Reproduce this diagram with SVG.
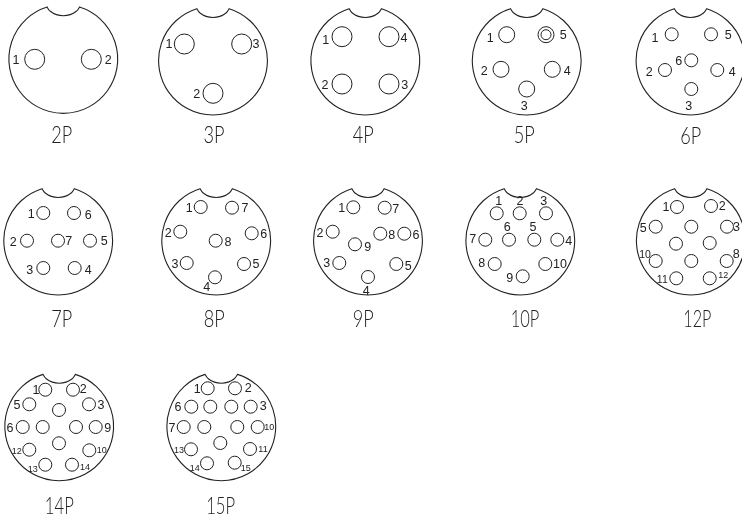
<svg xmlns="http://www.w3.org/2000/svg" xmlns:xlink="http://www.w3.org/1999/xlink" width="742" height="519" viewBox="0 0 742 519">
<style>
.b{fill:none;stroke:#222;stroke-width:1.1}
.p{fill:none;stroke:#222;stroke-width:1}
text{font-family:"Liberation Sans",Arial,sans-serif;fill:#222;text-anchor:middle;filter:url(#g)}
.n{font-size:12.5px}
.s{font-size:9px}
.t{font-size:10.5px}
.c{font-family:Lato,"Liberation Sans",sans-serif;font-weight:300;font-size:22.5px}
</style>
<defs>
<filter id="g" x="-20%" y="-20%" width="140%" height="140%" color-interpolation-filters="sRGB"><feOffset dx="0" dy="0"/></filter>
<path id="body" class="b" d="M-16.2,-51.8A54.4,54.4 0 1 0 16.2,-51.8C15,-49.5 14.5,-48.5 13,-47.5A21 21 0 0 1 -13,-47.5C-14.5,-48.5 -15,-49.5 -16.2,-51.8Z"/>
</defs>
<rect width="742" height="519" fill="#fff"/>
<g id="c2P"><use href="#body" x="63.3" y="58.8"/>
<circle class="p" cx="34.7" cy="59.3" r="10"/><circle class="p" cx="91.3" cy="59.3" r="10"/>
<text class="n" x="16" y="63.5">1</text><text class="n" x="108.3" y="63.5">2</text>
<text class="c" x="61.7" y="143.3" textLength="21" lengthAdjust="spacingAndGlyphs">2P</text></g>
<g id="c3P"><use href="#body" x="213" y="60.5"/>
<circle class="p" cx="184.3" cy="44" r="10"/><circle class="p" cx="241.7" cy="44" r="10"/><circle class="p" cx="213" cy="93.3" r="10"/>
<text class="n" x="169" y="48.3">1</text><text class="n" x="256" y="48.3">3</text><text class="n" x="196.7" y="98.3">2</text>
<text class="c" x="214" y="143.3" textLength="21" lengthAdjust="spacingAndGlyphs">3P</text></g>
<g id="c4P"><use href="#body" x="365.3" y="60.5"/>
<circle class="p" cx="342" cy="36.7" r="10"/><circle class="p" cx="389" cy="36.7" r="10"/><circle class="p" cx="342" cy="84" r="10"/><circle class="p" cx="389" cy="84" r="10"/>
<text class="n" x="325.7" y="44.3">1</text><text class="n" x="404" y="42">4</text><text class="n" x="325" y="88.6">2</text><text class="n" x="404.7" y="88.6">3</text>
<text class="c" x="363.3" y="143.3" textLength="21" lengthAdjust="spacingAndGlyphs">4P</text></g>
<g id="c5P"><use href="#body" x="526.7" y="60.5"/>
<circle class="p" cx="506.7" cy="34.7" r="8"/><circle class="p" cx="546" cy="34.7" r="8"/><circle class="p" cx="546" cy="34.7" r="5"/><circle class="p" cx="501" cy="69.3" r="8"/><circle class="p" cx="552.3" cy="69.3" r="8"/><circle class="p" cx="526.7" cy="89" r="8"/>
<text class="n" x="490.3" y="41.6">1</text><text class="n" x="563.3" y="39.3">5</text><text class="n" x="484.3" y="75">2</text><text class="n" x="567.3" y="75.3">4</text><text class="n" x="524.3" y="110.3">3</text>
<text class="c" x="524.3" y="143.3" textLength="21" lengthAdjust="spacingAndGlyphs">5P</text></g>
<g id="c6P"><use href="#body" x="690.5" y="60.5"/>
<circle class="p" cx="671.7" cy="34.3" r="6.5"/><circle class="p" cx="711" cy="34.3" r="6.5"/><circle class="p" cx="691.3" cy="60.3" r="6.5"/><circle class="p" cx="665" cy="70" r="6.5"/><circle class="p" cx="717.3" cy="70" r="6.5"/><circle class="p" cx="691.3" cy="89" r="6.5"/>
<text class="n" x="655" y="41.6">1</text><text class="n" x="728.3" y="39.3">5</text><text class="n" x="678.7" y="65.3">6</text><text class="n" x="649.3" y="75.6">2</text><text class="n" x="732.3" y="75.6">4</text><text class="n" x="688.7" y="110.3">3</text>
<text class="c" x="690.7" y="144" textLength="21" lengthAdjust="spacingAndGlyphs">6P</text></g>
<g id="c7P"><use href="#body" x="58.2" y="240.5"/>
<circle class="p" cx="43.3" cy="213" r="6.5"/><circle class="p" cx="74" cy="213" r="6.5"/><circle class="p" cx="27" cy="240.7" r="6.5"/><circle class="p" cx="58" cy="240.7" r="6.5"/><circle class="p" cx="90" cy="240.7" r="6.5"/><circle class="p" cx="43.3" cy="268" r="6.5"/><circle class="p" cx="74.7" cy="268" r="6.5"/>
<text class="n" x="31.3" y="218">1</text><text class="n" x="88.3" y="218.6">6</text><text class="n" x="13.3" y="246">2</text><text class="n" x="68.7" y="245.3">7</text><text class="n" x="104.3" y="245.3">5</text><text class="n" x="29.7" y="273.6">3</text><text class="n" x="88.3" y="273.6">4</text>
<text class="c" x="61.7" y="327.3" textLength="21" lengthAdjust="spacingAndGlyphs">7P</text></g>
<g id="c8P"><use href="#body" x="216.2" y="240.5"/>
<circle class="p" cx="200.7" cy="207" r="6.5"/><circle class="p" cx="232" cy="207.7" r="6.5"/><circle class="p" cx="180.3" cy="231.7" r="6.5"/><circle class="p" cx="251.7" cy="233.3" r="6.5"/><circle class="p" cx="215.7" cy="240.7" r="6.5"/><circle class="p" cx="186.7" cy="263" r="6.5"/><circle class="p" cx="244" cy="264" r="6.5"/><circle class="p" cx="215" cy="277.3" r="6.5"/>
<text class="n" x="189.3" y="211.6">1</text><text class="n" x="245" y="212">7</text><text class="n" x="168.3" y="237.3">2</text><text class="n" x="263.7" y="238">6</text><text class="n" x="228" y="245.6">8</text><text class="n" x="175" y="268">3</text><text class="n" x="256" y="268">5</text><text class="n" x="206.7" y="291.3">4</text>
<text class="c" x="214.3" y="327.3" textLength="21" lengthAdjust="spacingAndGlyphs">8P</text></g>
<g id="c9P"><use href="#body" x="368" y="240.5"/>
<circle class="p" cx="353.3" cy="207.3" r="6.5"/><circle class="p" cx="384.7" cy="207.7" r="6.5"/><circle class="p" cx="332.7" cy="231.7" r="6.5"/><circle class="p" cx="380.3" cy="233.7" r="6.5"/><circle class="p" cx="404.3" cy="233.7" r="6.5"/><circle class="p" cx="355" cy="244.3" r="6.5"/><circle class="p" cx="339.3" cy="263" r="6.5"/><circle class="p" cx="396.3" cy="264" r="6.5"/><circle class="p" cx="368" cy="277" r="6.5"/>
<text class="n" x="341.7" y="211.6">1</text><text class="n" x="395.7" y="212.6">7</text><text class="n" x="320" y="236.6">2</text><text class="n" x="391.7" y="238.6">8</text><text class="n" x="416" y="238.6">6</text><text class="n" x="367.7" y="250.6">9</text><text class="n" x="326.7" y="267.3">3</text><text class="n" x="408.3" y="270">5</text><text class="n" x="366.3" y="295">4</text>
<text class="c" x="363.3" y="327.3" textLength="21" lengthAdjust="spacingAndGlyphs">9P</text></g>
<g id="c10P"><use href="#body" x="520.3" y="240.5"/>
<circle class="p" cx="496.7" cy="213.3" r="6.5"/><circle class="p" cx="519.7" cy="213.3" r="6.5"/><circle class="p" cx="546" cy="213.3" r="6.5"/><circle class="p" cx="485.3" cy="239.7" r="6.5"/><circle class="p" cx="509" cy="239.7" r="6.5"/><circle class="p" cx="534.3" cy="239.7" r="6.5"/><circle class="p" cx="557.3" cy="239.7" r="6.5"/><circle class="p" cx="494.7" cy="264" r="6.5"/><circle class="p" cx="545.3" cy="264" r="6.5"/><circle class="p" cx="522.7" cy="276.3" r="6.5"/>
<text class="n" x="498.7" y="205.3">1</text><text class="n" x="520" y="205.3">2</text><text class="n" x="543.7" y="205.3">3</text><text class="n" x="507.3" y="231.3">6</text><text class="n" x="533" y="230.6">5</text><text class="n" x="472.7" y="242.6">7</text><text class="n" x="568.7" y="245.3">4</text><text class="n" x="481.7" y="267">8</text><text class="n" x="560" y="267.6">10</text><text class="n" x="509.7" y="281.6">9</text>
<text class="c" x="525" y="327.3" textLength="28.7" lengthAdjust="spacingAndGlyphs">10P</text></g>
<g id="c12P"><use href="#body" x="690.8" y="240.5"/>
<circle class="p" cx="677" cy="207" r="6.5"/><circle class="p" cx="711" cy="206" r="6.5"/><circle class="p" cx="655.7" cy="226.7" r="6.5"/><circle class="p" cx="691.3" cy="226.7" r="6.5"/><circle class="p" cx="727" cy="226.7" r="6.5"/><circle class="p" cx="676" cy="243.7" r="6.5"/><circle class="p" cx="709.7" cy="243" r="6.5"/><circle class="p" cx="655.7" cy="261" r="6.5"/><circle class="p" cx="691.3" cy="261" r="6.5"/><circle class="p" cx="726.7" cy="261" r="6.5"/><circle class="p" cx="676.3" cy="278.3" r="6.5"/><circle class="p" cx="709.7" cy="278.3" r="6.5"/>
<text class="n" x="666" y="210.6">1</text><text class="n" x="722.3" y="210">2</text><text class="n" x="643.3" y="231.6">5</text><text class="n" x="736.5" y="231">3</text><text class="t" x="645" y="257.5">10</text><text class="n" x="736.3" y="257.6">8</text><text class="t" x="662.3" y="283">11</text><text class="s" x="723.3" y="277.6">12</text>
<text class="c" x="697.3" y="327.3" textLength="28" lengthAdjust="spacingAndGlyphs">12P</text></g>
<g id="c14P"><use href="#body" x="59.2" y="426.2"/>
<circle class="p" cx="45.3" cy="389.7" r="6.5"/><circle class="p" cx="73" cy="389.7" r="6.5"/><circle class="p" cx="29.3" cy="404.3" r="6.5"/><circle class="p" cx="89" cy="404.3" r="6.5"/><circle class="p" cx="59" cy="410" r="6.5"/><circle class="p" cx="22.7" cy="427" r="6.5"/><circle class="p" cx="42.7" cy="427" r="6.5"/><circle class="p" cx="76" cy="427" r="6.5"/><circle class="p" cx="95.7" cy="427" r="6.5"/><circle class="p" cx="59" cy="443.3" r="6.5"/><circle class="p" cx="29.3" cy="449.7" r="6.5"/><circle class="p" cx="89.3" cy="450.3" r="6.5"/><circle class="p" cx="45.3" cy="464.7" r="6.5"/><circle class="p" cx="72" cy="464.7" r="6.5"/>
<text class="n" x="36" y="393.6">1</text><text class="n" x="83.3" y="392.6">2</text><text class="n" x="17" y="409.3">5</text><text class="n" x="101" y="408.6">3</text><text class="n" x="10" y="431.6">6</text><text class="n" x="107.7" y="431.6">9</text><text class="s" x="16.7" y="454.3">12</text><text class="s" x="101.7" y="453">10</text><text class="s" x="32.7" y="471.6">13</text><text class="s" x="85" y="469.6">14</text>
<text class="c" x="59.3" y="514" textLength="29" lengthAdjust="spacingAndGlyphs">14P</text></g>
<g id="c15P"><use href="#body" x="221.3" y="426.2"/>
<circle class="p" cx="207.7" cy="388.3" r="6.5"/><circle class="p" cx="235" cy="388.3" r="6.5"/><circle class="p" cx="191.3" cy="406.7" r="6.5"/><circle class="p" cx="210.3" cy="406.7" r="6.5"/><circle class="p" cx="231.3" cy="406.7" r="6.5"/><circle class="p" cx="250.7" cy="406.7" r="6.5"/><circle class="p" cx="183.7" cy="427" r="6.5"/><circle class="p" cx="204.3" cy="427" r="6.5"/><circle class="p" cx="237.3" cy="427" r="6.5"/><circle class="p" cx="257.7" cy="427" r="6.5"/><circle class="p" cx="220.3" cy="443" r="6.5"/><circle class="p" cx="191" cy="449.3" r="6.5"/><circle class="p" cx="250" cy="449" r="6.5"/><circle class="p" cx="207" cy="463.3" r="6.5"/><circle class="p" cx="234.7" cy="462.7" r="6.5"/>
<text class="n" x="197.3" y="392.6">1</text><text class="n" x="248.3" y="392">2</text><text class="n" x="178" y="411">6</text><text class="n" x="263.3" y="410.3">3</text><text class="n" x="172" y="431.6">7</text><text class="s" x="269.3" y="430.3">10</text><text class="s" x="179" y="453">13</text><text class="s" x="263" y="451.6">11</text><text class="s" x="194.7" y="470.6">14</text><text class="s" x="245.7" y="471">15</text>
<text class="c" x="220.7" y="514" textLength="29" lengthAdjust="spacingAndGlyphs">15P</text></g>
</svg>
